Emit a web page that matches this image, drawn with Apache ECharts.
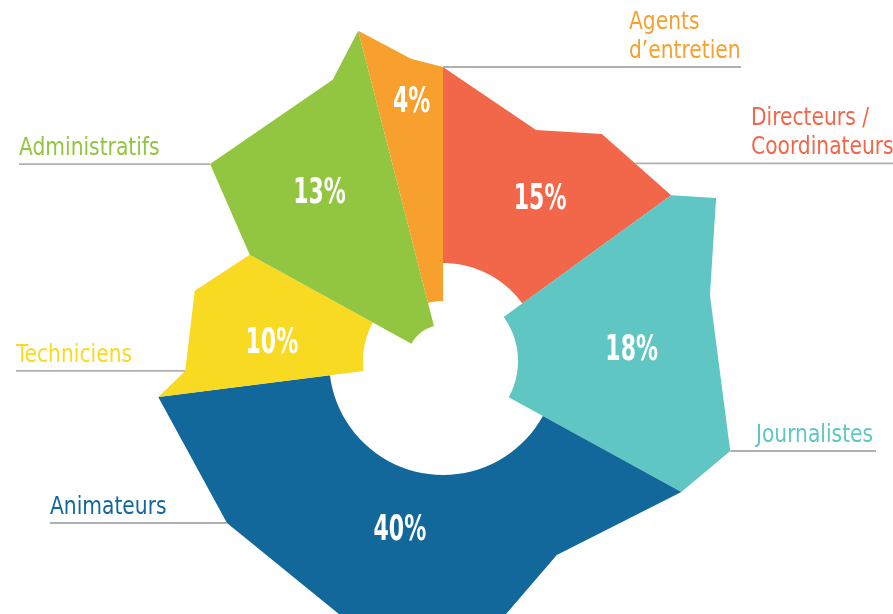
<!DOCTYPE html>
<html>
<head>
<meta charset="utf-8">
<script src="https://cdn.jsdelivr.net/npm/echarts@6/dist/echarts.min.js"></script>
<style>
  html, body { margin: 0; padding: 0; background: #fff; }
  #chart { width: 893px; height: 614px; }
</style>
</head>
<body>
<div id="chart"></div>
<script>
// data: staff by job, clockwise from 12 o'clock
var categories = ['Directeurs /\nCoordinateurs', 'Journalistes', 'Animateurs', 'Techniciens', 'Administratifs', 'Agents\nd\u2019entretien'];
var shares = [15, 18, 40, 10, 13, 4];
var shareLabels = ['15%', '18%', '40%', '10%', '13%', '4%'];

// look of each slice
var colors = ['#f26649', '#60c6c3', '#12679b', '#f9da22', '#92c640', '#f8a02e'];
var innerR = [98, 75, 114, 80, 36, 60];
// outer edge: [fraction of the slice's sweep, radius in px]
var outline = [
  [[0, 294], [0.406, 249], [0.648, 277], [1, 282]],
  [[0, 282], [0.080, 318], [0.341, 275], [0.824, 301], [1, 272]],
  [[0, 272], [0.214, 225], [0.432, 333], [0.794, 270], [1, 287]],
  [[0, 287], [0.139, 258], [0.639, 258], [1, 220.5]],
  [[0, 220.5], [0.244, 305], [0.850, 302], [1, 341]],
  [[0, 341], [0.58, 304], [1, 294]]
];
var pctPos = [[0.576, 188], [0.505, 189], [0.524, 175], [0.36, 172], [0.53, 208], [0.52, 260]];
// callout: leader starts on outline edge (vertex index + t), runs horizontally to `end`
var callouts = [
  { edge: 2, t: 0.48, end: 893, textX: 751 },
  { edge: 3, t: 0, end: 876, textX: 756 },
  { edge: 3, t: 0, end: 50, textX: 50 },
  { edge: 1, t: 0, end: 16, textX: 16 },
  { edge: 1, t: 0, end: 19, textX: 19 },
  { edge: 2, t: 0, end: 741, textX: 629 }
];

var starts = [];
var acc = 0;
shares.forEach(function (v) { starts.push(acc); acc += v; });

var labelFont = "25px 'DejaVu Sans Condensed', sans-serif";
var pctFont = "bold 36px 'DejaVu Sans Condensed', sans-serif";

function renderSlice(params, api) {
  var i = params.dataIndex;
  var a0 = starts[i], span = shares[i];
  var pts = outline[i].map(function (p) {
    return api.coord([p[1], a0 + p[0] * span]);
  });
  var steps = 40;
  for (var k = steps; k >= 0; k--) {
    pts.push(api.coord([innerR[i], a0 + span * k / steps]));
  }
  var c = callouts[i];
  var p0 = pts[c.edge], p1 = pts[c.edge + 1];
  var ax = p0[0] + (p1[0] - p0[0]) * c.t;
  var ay = p0[1] + (p1[1] - p0[1]) * c.t;
  var lp = api.coord([pctPos[i][1], a0 + pctPos[i][0] * span]);
  return {
    type: 'group',
    children: [
      { type: 'polygon', shape: { points: pts }, style: { fill: colors[i] } },
      {
        type: 'text', x: lp[0], y: lp[1], scaleX: 0.68,
        style: { text: shareLabels[i], fill: '#fff', font: pctFont, align: 'center', verticalAlign: 'middle' }
      },
      {
        type: 'line', shape: { x1: ax, y1: ay, x2: c.end, y2: ay },
        style: { stroke: '#b0b0b0', lineWidth: 1.8 }
      },
      {
        type: 'text', x: c.textX, y: ay - 1, scaleX: 0.9,
        style: { text: categories[i], fill: colors[i], font: labelFont, align: 'left', verticalAlign: 'bottom', lineHeight: 29 }
      }
    ]
  };
}

var chart = echarts.init(document.getElementById('chart'));
chart.setOption({
  animation: false,
  backgroundColor: '#fff',
  polar: { center: [443, 361], radius: 300 },
  angleAxis: { type: 'value', min: 0, max: 100, startAngle: 90, clockwise: true, show: false },
  radiusAxis: { type: 'value', min: 0, max: 300, show: false },
  series: [{
    type: 'custom',
    coordinateSystem: 'polar',
    silent: true,
    data: shares.map(function (v, i) { return [i, v]; }),
    renderItem: renderSlice
  }]
});
</script>
</body>
</html>
